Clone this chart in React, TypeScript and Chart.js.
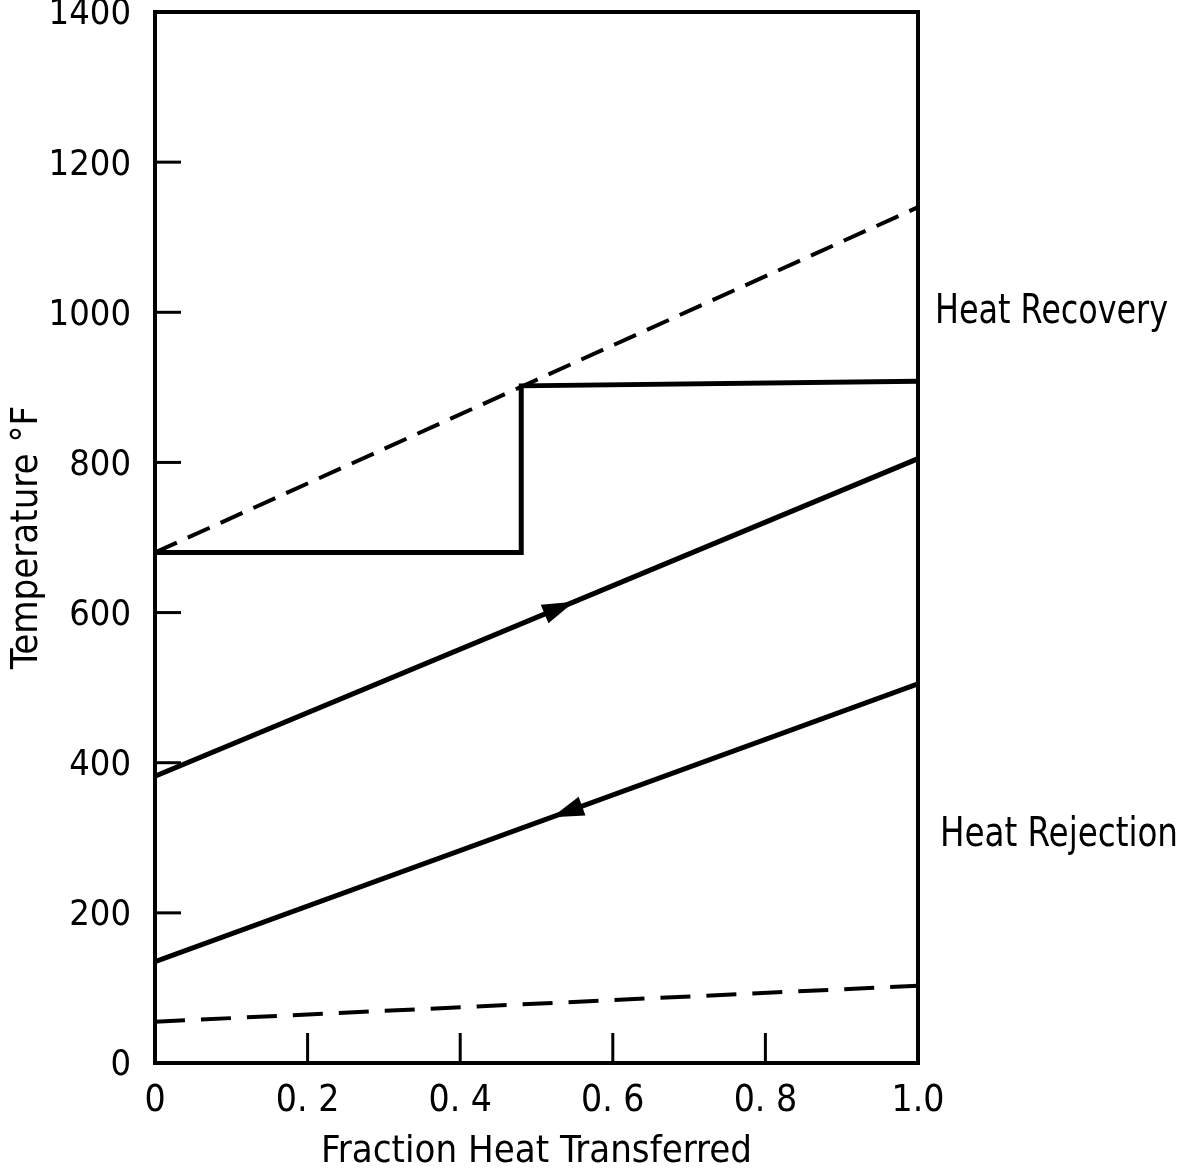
import React, { useEffect, useRef } from "react";
import { Chart, registerables } from "chart.js";

Chart.register(...registerables);

// ---- data ----
const xTickValues = [0, 0.2, 0.4, 0.6, 0.8, 1.0];
const xTickLabels = ["0", "0. 2", "0. 4", "0. 6", "0. 8", "1.0"];
const yTickValues = [0, 200, 400, 600, 800, 1000, 1200, 1400];
const yTickLabels = ["0", "200", "400", "600", "800", "1000", "1200", "1400"];

const gasX = [0, 1.0];
const gasY = [680, 1140];

const recoveryX = [0, 0.48, 0.48, 1.0];
const recoveryY = [680, 680, 902, 908];

const upperCycleX = [0, 1.0];
const upperCycleY = [382, 805];

const lowerCycleX = [0, 1.0];
const lowerCycleY = [135, 505];

const sinkX = [0, 1.0];
const sinkY = [55, 103];

// arrows: position (fraction) along line and direction (+1 right, -1 left)
const arrowAt = [0.53, 0.54];
const arrowDir = [1, -1];

const annotations = [
  { text: "Heat Recovery", value: 1000, dx: 17, width: 233 },
  { text: "Heat Rejection", value: 303, dx: 22, width: 238 },
];

const FONT = "'DejaVu Sans Condensed', 'DejaVu Sans', sans-serif";

const pts = (xs: number[], ys: number[]) => xs.map((x, i) => ({ x, y: ys[i] }));

const framePlugin = {
  id: "frame",
  afterDatasetsDraw(chart: any) {
    const { ctx, chartArea, scales } = chart;
    const xs = scales.x;
    const ys = scales.y;
    ctx.save();
    ctx.strokeStyle = "#000";
    ctx.lineWidth = 4;
    ctx.lineCap = "butt";
    ctx.strokeRect(chartArea.left, chartArea.top, chartArea.right - chartArea.left, chartArea.bottom - chartArea.top);
    // inward ticks
    ctx.lineWidth = 3;
    yTickValues.forEach((v) => {
      if (v === 0 || v === 1400) return;
      const y = ys.getPixelForValue(v);
      ctx.beginPath();
      ctx.moveTo(chartArea.left, y);
      ctx.lineTo(chartArea.left + 26, y);
      ctx.stroke();
    });
    xTickValues.forEach((v) => {
      if (v === 0 || v === 1) return;
      const x = xs.getPixelForValue(v);
      ctx.beginPath();
      ctx.moveTo(x, chartArea.bottom);
      ctx.lineTo(x, chartArea.bottom - 30);
      ctx.stroke();
    });
    // arrows
    const lines = [
      [upperCycleX, upperCycleY],
      [lowerCycleX, lowerCycleY],
    ];
    lines.forEach(([lx, ly], i) => {
      const f = arrowAt[i];
      const t = (f - lx[0]) / (lx[1] - lx[0]);
      const yv = ly[0] + t * (ly[1] - ly[0]);
      const px = xs.getPixelForValue(f);
      const py = ys.getPixelForValue(yv);
      const x0 = xs.getPixelForValue(lx[0]);
      const y0 = ys.getPixelForValue(ly[0]);
      const x1 = xs.getPixelForValue(lx[1]);
      const y1 = ys.getPixelForValue(ly[1]);
      let ang = Math.atan2(y1 - y0, x1 - x0);
      if (arrowDir[i] < 0) ang += Math.PI;
      const L = 32;
      const W = 10;
      ctx.fillStyle = "#000";
      ctx.beginPath();
      ctx.moveTo(px + Math.cos(ang) * L / 2, py + Math.sin(ang) * L / 2);
      const bx = px - Math.cos(ang) * L / 2;
      const by = py - Math.sin(ang) * L / 2;
      ctx.lineTo(bx + Math.cos(ang + Math.PI / 2) * W, by + Math.sin(ang + Math.PI / 2) * W);
      ctx.lineTo(bx - Math.cos(ang + Math.PI / 2) * W, by - Math.sin(ang + Math.PI / 2) * W);
      ctx.closePath();
      ctx.fill();
    });
    // side annotations
    ctx.font = `40px ${FONT}`;
    ctx.textBaseline = "middle";
    ctx.textAlign = "left";
    annotations.forEach((a) => {
      ctx.fillText(a.text, chartArea.right + a.dx, ys.getPixelForValue(a.value), a.width);
    });
    ctx.restore();
  },
};

export default function App() {
  const ref = useRef<HTMLCanvasElement | null>(null);
  useEffect(() => {
    if (!ref.current) return;
    const solid = (data: any) => ({
      data,
      borderColor: "#000",
      borderWidth: 5,
      pointRadius: 0,
      fill: false,
      tension: 0,
    });
    const dashed = (data: any, dash: number[]) => ({
      ...solid(data),
      borderWidth: 4,
      borderDash: dash,
    });
    const chart = new Chart(ref.current, {
      type: "line",
      data: {
        datasets: [
          dashed(pts(gasX, gasY), [24, 12]),
          solid(pts(recoveryX, recoveryY)),
          solid(pts(upperCycleX, upperCycleY)),
          solid(pts(lowerCycleX, lowerCycleY)),
          dashed(pts(sinkX, sinkY), [30, 16]),
        ],
      },
      options: {
        responsive: false,
        animation: false,
        devicePixelRatio: 1,
        layout: { padding: { top: 12, right: 261, left: 0, bottom: 0 } },
        plugins: { legend: { display: false }, tooltip: { enabled: false } },
        scales: {
          x: {
            type: "linear",
            min: 0,
            max: 1,
            border: { display: false },
            grid: { display: false, drawTicks: false },
            afterBuildTicks(s: any) {
              s.ticks = xTickValues.map((v) => ({ value: v }));
            },
            ticks: {
              color: "#000",
              font: { family: FONT, size: 37 },
              padding: 16,
              maxRotation: 0,
              autoSkip: false,
              callback: (v: any) => {
                const i = xTickValues.findIndex((t) => Math.abs(t - v) < 1e-6);
                return i >= 0 ? xTickLabels[i] : "";
              },
            },
            title: {
              display: true,
              text: "Fraction Heat Transferred",
              color: "#000",
              font: { family: FONT, size: 38 },
              padding: { top: 0, bottom: 0 },
            },
            afterFit(s: any) {
              s.height = 112;
              s.paddingLeft = 0;
              s.paddingRight = 0;
            },
          },
          y: {
            type: "linear",
            min: 0,
            max: 1400,
            border: { display: false },
            grid: { display: false, drawTicks: false },
            afterBuildTicks(s: any) {
              s.ticks = yTickValues.map((v) => ({ value: v }));
            },
            ticks: {
              color: "#000",
              font: { family: FONT, size: 36 },
              padding: 24,
              labelOffset: 3,
              autoSkip: false,
              callback: (v: any) => {
                const i = yTickValues.indexOf(v);
                return i >= 0 ? yTickLabels[i] : "";
              },
            },
            title: {
              display: true,
              text: "Temperature °F",
              color: "#000",
              font: { family: FONT, size: 38 },
              padding: { top: 4, bottom: 2 },
            },
            afterFit(s: any) {
              s.width = 155;
              s.paddingTop = 0;
              s.paddingBottom = 0;
            },
          },
        },
      },
      plugins: [framePlugin],
    } as any);
    return () => chart.destroy();
  }, []);
  return (
    <div style={{ position: "absolute", left: 0, top: 0, width: 1179, height: 1175, background: "#fff" }}>
      <canvas ref={ref} width={1179} height={1175} />
    </div>
  );
}
